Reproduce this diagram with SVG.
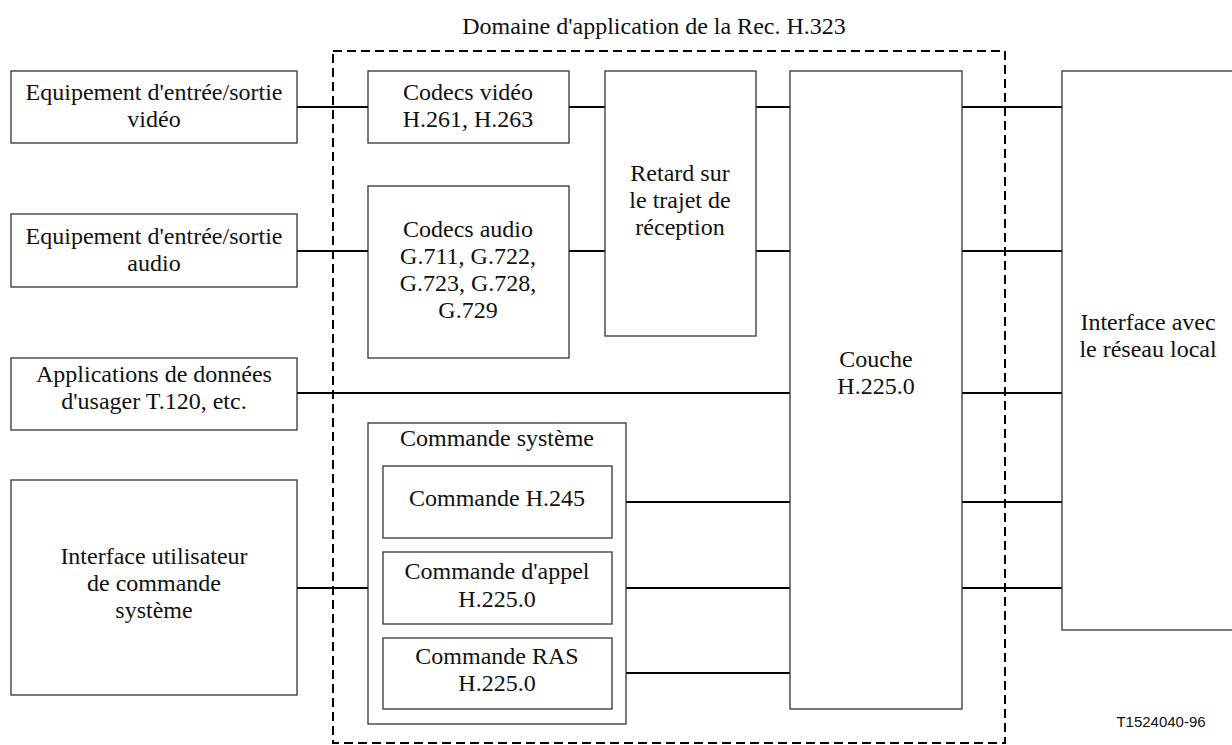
<svg xmlns="http://www.w3.org/2000/svg" width="1232" height="745" viewBox="0 0 1232 745">
<style>
.box{fill:#fff;stroke:#333;stroke-width:1.3}
.t{font-family:"Liberation Serif","Times New Roman",serif;font-size:24px;fill:#111;text-anchor:middle}
.s{font-family:"Liberation Sans",Arial,sans-serif;font-size:15px;fill:#111;text-anchor:middle}
.c{stroke:#000;stroke-width:2;fill:none}
.dash{fill:none;stroke:#000;stroke-width:2;stroke-dasharray:9 5}
</style>
<rect width="1232" height="745" fill="#fff"/>
<g id="scope">
<rect class="dash" x="333" y="51" width="672" height="692"/>
<text class="t" x="654" y="34">Domaine d'application de la Rec. H.323</text>
</g>
<g id="connectors">
<path class="c" d="M297 107H368M297 251H368M297 393H790M297 588H383"/>
<path class="c" d="M569 107H605M569 251H605M756 107H790M756 251H790"/>
<path class="c" d="M612 502H790M612 588H790M612 673H790"/>
<path class="c" d="M962 107H1062M962 251H1062M962 393H1062M962 502H1062M962 588H1062"/>
</g>
<g id="video-io">
<rect class="box" x="11" y="71" width="286" height="72"/>
<text class="t" x="154" y="100">Equipement d'entrée/sortie</text>
<text class="t" x="154" y="127">vidéo</text>
</g>
<g id="audio-io">
<rect class="box" x="11" y="214" width="286" height="73"/>
<text class="t" x="154" y="244">Equipement d'entrée/sortie</text>
<text class="t" x="154" y="271">audio</text>
</g>
<g id="data-apps">
<rect class="box" x="11" y="358" width="286" height="72"/>
<text class="t" x="154" y="382">Applications de données</text>
<text class="t" x="154" y="409">d'usager T.120, etc.</text>
</g>
<g id="ui">
<rect class="box" x="11" y="480" width="286" height="215"/>
<text class="t" x="154" y="564">Interface utilisateur</text>
<text class="t" x="154" y="591">de commande</text>
<text class="t" x="154" y="618">système</text>
</g>
<g id="video-codec">
<rect class="box" x="368" y="71" width="201" height="72"/>
<text class="t" x="468" y="100">Codecs vidéo</text>
<text class="t" x="468" y="127">H.261, H.263</text>
</g>
<g id="audio-codec">
<rect class="box" x="368" y="186" width="201" height="172"/>
<text class="t" x="468" y="237">Codecs audio</text>
<text class="t" x="468" y="264">G.711, G.722,</text>
<text class="t" x="468" y="291">G.723, G.728,</text>
<text class="t" x="468" y="318">G.729</text>
</g>
<g id="delay">
<rect class="box" x="605" y="71" width="151" height="265"/>
<text class="t" x="680" y="181">Retard sur</text>
<text class="t" x="680" y="208">le trajet de</text>
<text class="t" x="680" y="235">réception</text>
</g>
<g id="system-control">
<rect class="box" x="368" y="423" width="258" height="301"/>
<text class="t" x="497" y="446">Commande système</text>
</g>
<g id="h245">
<rect class="box" x="383" y="466" width="229" height="72"/>
<text class="t" x="497" y="506">Commande H.245</text>
</g>
<g id="call-control">
<rect class="box" x="383" y="552" width="229" height="72"/>
<text class="t" x="497" y="579">Commande d'appel</text>
<text class="t" x="497" y="607">H.225.0</text>
</g>
<g id="ras">
<rect class="box" x="383" y="638" width="229" height="71"/>
<text class="t" x="497" y="664">Commande RAS</text>
<text class="t" x="497" y="691">H.225.0</text>
</g>
<g id="h225-layer">
<rect class="box" x="790" y="71" width="172" height="638"/>
<text class="t" x="876" y="367">Couche</text>
<text class="t" x="876" y="394">H.225.0</text>
</g>
<g id="lan-interface">
<rect class="box" x="1062" y="71" width="180" height="559"/>
<text class="t" x="1148" y="330">Interface avec</text>
<text class="t" x="1148" y="357">le réseau local</text>
</g>
<text class="s" x="1161" y="727">T1524040-96</text>
</svg>
